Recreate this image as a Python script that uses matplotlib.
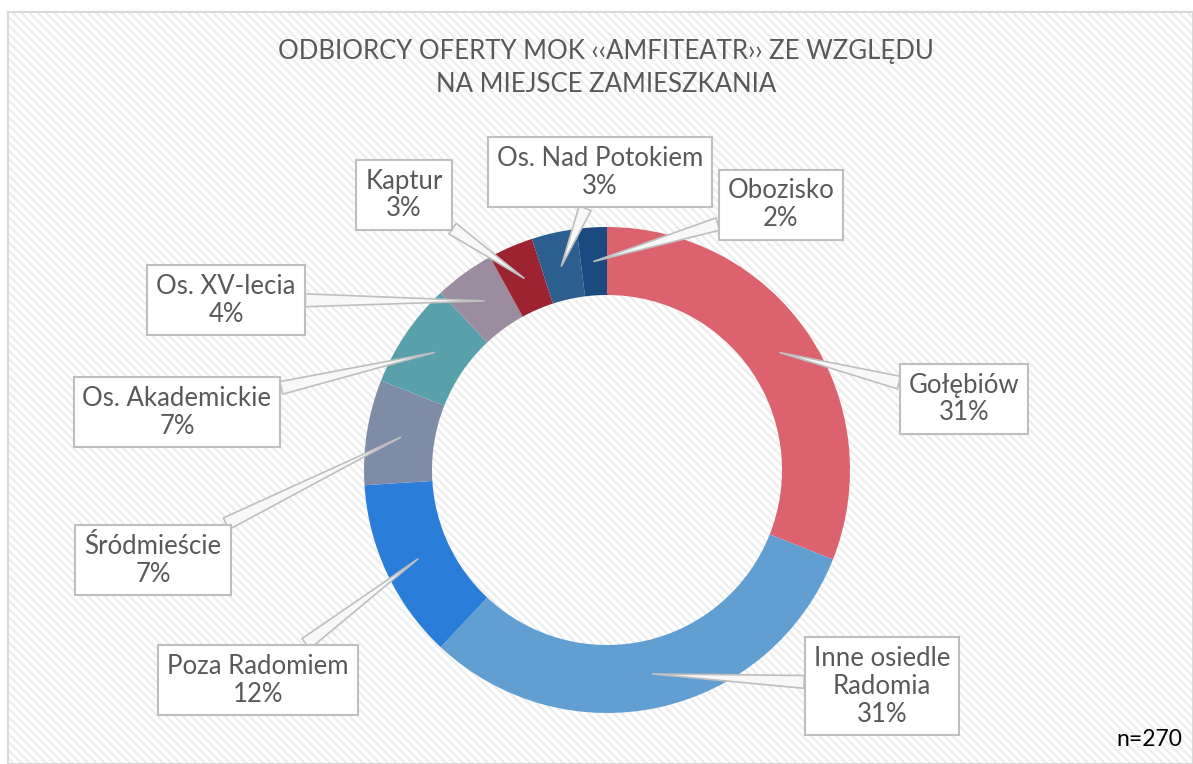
import matplotlib.pyplot as plt
from matplotlib.patches import Rectangle
import numpy as np

plt.rcParams['font.family'] = ['Lato', 'DejaVu Sans']
plt.rcParams['hatch.linewidth'] = 1.6

title = 'ODBIORCY OFERTY MOK ‹‹AMFITEATR›› ZE WZGLĘDU\nNA MIEJSCE ZAMIESZKANIA'
labels = ['Gołębiów', 'Inne osiedle\nRadomia', 'Poza Radomiem', 'Śródmieście',
          'Os. Akademickie', 'Os. XV-lecia', 'Kaptur', 'Os. Nad Potokiem', 'Obozisko']
shares = [31, 31, 12, 7, 7, 4, 3, 3, 2]
colors = ['#DC636D', '#619FD3', '#2A7DD8', '#7F8CA8', '#58A1AA',
          '#9C8C9F', '#9C232F', '#2C5F8F', '#1B4A80']
n_total = 270

# callout box centres (pixels from top-left)
box_pos = [(964, 399), (882, 686), (258, 680), (153, 560), (177, 412),
           (226, 300), (404, 195), (600, 172), (781, 205)]

W, H = 1193, 764
fig = plt.figure(figsize=(W / 100, H / 100), dpi=100)
ax = fig.add_axes([0, 0, 1, 1])

# hatched background + border
ax.add_patch(Rectangle((8, 0), W - 8, H - 12, facecolor='white', edgecolor='#EEEEEE',
                       lw=0, hatch='\\\\\\\\', zorder=0))
ax.add_patch(Rectangle((8, 0), W - 8, H - 12, fill=False, edgecolor='#D9D9D9',
                       lw=1.5, zorder=1))

cx, cy = 607, H - 470
R, ring = 243, 68
wedges, _ = ax.pie(shares, colors=colors, startangle=90, counterclock=False,
                   radius=R, center=(cx, cy),
                   wedgeprops=dict(width=ring, linewidth=0))
for w in wedges:
    w.set_zorder(2)

for w, lab, val, (bx, by) in zip(wedges, labels, shares, box_pos):
    ang = np.deg2rad((w.theta1 + w.theta2) / 2)
    r = R - ring / 2
    ax.annotate(f'{lab}\n{val}%', xy=(cx + r * np.cos(ang), cy + r * np.sin(ang)),
                xytext=(bx, H - by), ha='center', va='center', fontsize=18.5,
                color='#595959', linespacing=1.15, zorder=5,
                bbox=dict(boxstyle='square,pad=0.35', fc='white', ec='#BFBFBF', lw=1.5),
                arrowprops=dict(arrowstyle='wedge,tail_width=0.5', fc='#F8F8F8',
                                ec='#BFBFBF', lw=1.2, shrinkA=0, shrinkB=0))

ax.text(606, H - 68, title, ha='center', va='center', fontsize=18.5, color='#595959',
        linespacing=1.35)
ax.text(1182, H - 740, f'n={n_total}', ha='right', va='center', fontsize=16.5, color='black')

ax.set_xlim(0, W)
ax.set_ylim(0, H)
ax.set_aspect('auto')
ax.axis('off')

fig.savefig('out.png', dpi=100)
